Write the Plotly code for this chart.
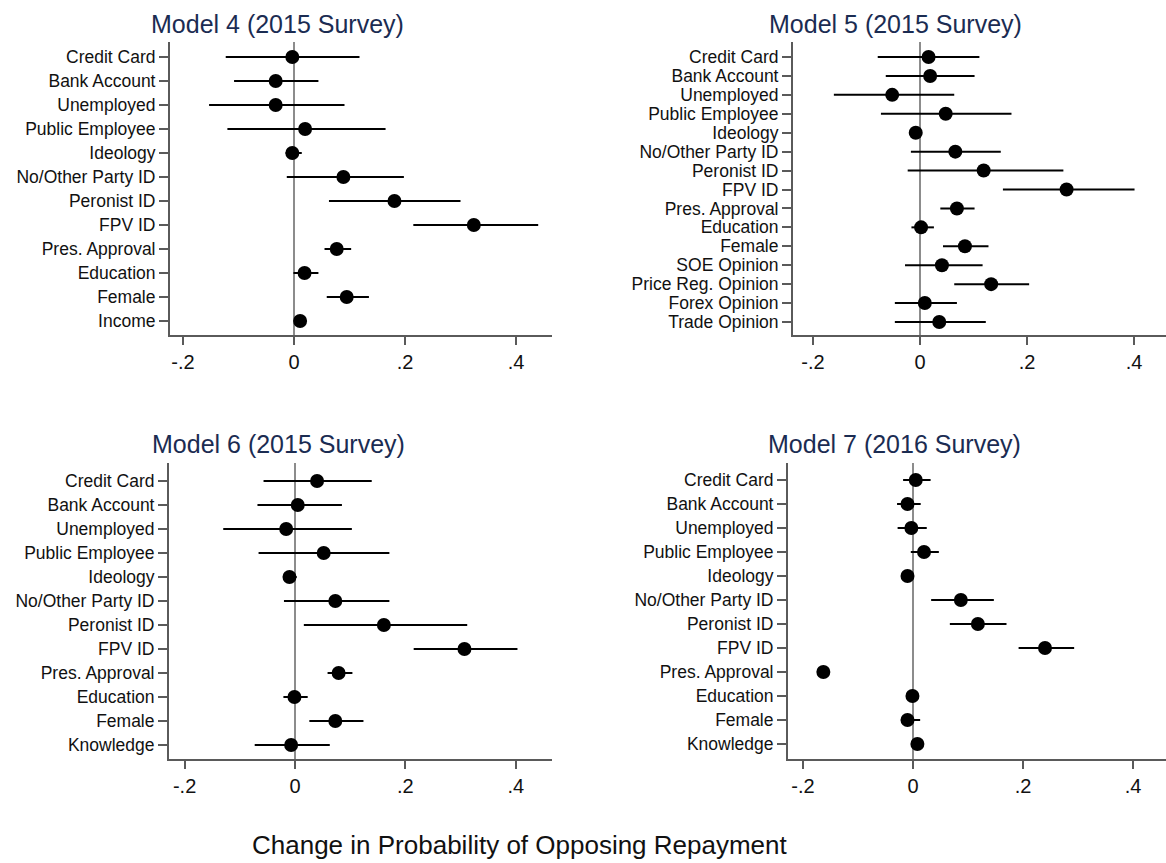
import plotly.graph_objects as go

W, H = 1166, 863
FONT = "Liberation Sans, Arial, Helvetica, sans-serif"

# ---- Model 4 (2015 Survey) ----
m4_labels = ["Credit Card", "Bank Account", "Unemployed", "Public Employee", "Ideology",
             "No/Other Party ID", "Peronist ID", "FPV ID", "Pres. Approval", "Education",
             "Female", "Income"]
m4_est = [-0.003, -0.033, -0.033, 0.020, -0.003, 0.089, 0.181, 0.324, 0.077, 0.019, 0.095, 0.011]
m4_lo = [-0.123, -0.108, -0.153, -0.120, -0.015, -0.013, 0.063, 0.215, 0.055, -0.001, 0.059, 0.004]
m4_hi = [0.118, 0.044, 0.091, 0.165, 0.014, 0.198, 0.300, 0.440, 0.103, 0.044, 0.135, 0.018]

# ---- Model 5 (2015 Survey) ----
m5_labels = ["Credit Card", "Bank Account", "Unemployed", "Public Employee", "Ideology",
             "No/Other Party ID", "Peronist ID", "FPV ID", "Pres. Approval", "Education",
             "Female", "SOE Opinion", "Price Reg. Opinion", "Forex Opinion", "Trade Opinion"]
m5_est = [0.016, 0.019, -0.052, 0.048, -0.008, 0.066, 0.119, 0.274, 0.069, 0.002, 0.084,
          0.041, 0.133, 0.009, 0.036]
m5_lo = [-0.079, -0.064, -0.161, -0.073, -0.017, -0.017, -0.023, 0.155, 0.038, -0.016, 0.043,
         -0.028, 0.064, -0.047, -0.047]
m5_hi = [0.111, 0.102, 0.064, 0.171, 0.003, 0.151, 0.268, 0.401, 0.102, 0.026, 0.128,
         0.117, 0.204, 0.069, 0.123]

# ---- Model 6 (2015 Survey) ----
m6_labels = ["Credit Card", "Bank Account", "Unemployed", "Public Employee", "Ideology",
             "No/Other Party ID", "Peronist ID", "FPV ID", "Pres. Approval", "Education",
             "Female", "Knowledge"]
m6_est = [0.040, 0.005, -0.016, 0.052, -0.010, 0.073, 0.161, 0.307, 0.079, -0.001, 0.073, -0.007]
m6_lo = [-0.057, -0.068, -0.130, -0.066, -0.020, -0.020, 0.016, 0.215, 0.059, -0.021, 0.026, -0.073]
m6_hi = [0.139, 0.085, 0.103, 0.171, 0.003, 0.171, 0.312, 0.403, 0.104, 0.023, 0.124, 0.063]

# ---- Model 7 (2016 Survey) ----
m7_labels = ["Credit Card", "Bank Account", "Unemployed", "Public Employee", "Ideology",
             "No/Other Party ID", "Peronist ID", "FPV ID", "Pres. Approval", "Education",
             "Female", "Knowledge"]
m7_est = [0.005, -0.010, -0.003, 0.020, -0.010, 0.087, 0.118, 0.240, -0.163, -0.001, -0.010, 0.008]
m7_lo = [-0.018, -0.029, -0.028, -0.004, -0.016, 0.033, 0.067, 0.192, -0.170, -0.007, -0.022, 0.002]
m7_hi = [0.032, 0.014, 0.025, 0.047, -0.004, 0.147, 0.170, 0.293, -0.156, 0.005, 0.013, 0.014]

titles = ["Model 4 (2015 Survey)", "Model 5 (2015 Survey)",
          "Model 6 (2015 Survey)", "Model 7 (2016 Survey)"]
x_tickvals = [-0.2, 0, 0.2, 0.4]
x_ticktext = ["-.2", "0", ".2", ".4"]
x_title = "Change in Probability of Opposing Repayment"

series = [
    (m4_labels, m4_est, m4_lo, m4_hi),
    (m5_labels, m5_est, m5_lo, m5_hi),
    (m6_labels, m6_est, m6_lo, m6_hi),
    (m7_labels, m7_est, m7_lo, m7_hi),
]

# Pixel geometry of each panel: y-axis line, right end, x=0 position,
# pixels per unit, axis top/bottom, first/last row centres, title centre.
geom = [
    dict(x0=170, x1=552, zero=294, ppu=555, top=42, bottom=335, first=57, last=321, tx=277, ty=24),
    dict(x0=793, x1=1166, zero=920, ppu=535, top=42, bottom=335, first=57, last=322, tx=895, ty=24),
    dict(x0=169, x1=552, zero=295, ppu=552, top=463, bottom=759, first=481, last=745, tx=278, ty=444),
    dict(x0=788, x1=1166, zero=913, ppu=550, top=463, bottom=759, first=480, last=744, tx=894, ty=444),
]

AXIS_COLOR = "#5a5a5a"
TITLE_COLOR = "#1b2c52"

fig = go.Figure()
layout = dict(
    width=W, height=H, autosize=False,
    margin=dict(l=0, r=0, t=0, b=0, pad=0),
    paper_bgcolor="white", plot_bgcolor="white",
    showlegend=False,
    font=dict(family=FONT, color="#111111"),
    annotations=[],
)

for i, ((labels, est, lo, hi), g) in enumerate(zip(series, geom)):
    n = len(labels)
    idx = list(range(n))
    sfx = "" if i == 0 else str(i + 1)
    plus = [h - e for h, e in zip(hi, est)]
    minus = [e - l for e, l in zip(est, lo)]
    fig.add_trace(go.Scatter(
        x=est, y=idx, mode="markers",
        marker=dict(color="black", size=14, line=dict(width=0)),
        error_x=dict(type="data", symmetric=False, array=plus, arrayminus=minus,
                     color="black", thickness=2, width=0),
        xaxis="x" + sfx, yaxis="y" + sfx, cliponaxis=False,
    ))
    spacing = (g["last"] - g["first"]) / (n - 1)
    yr = [(g["bottom"] - g["first"]) / spacing, (g["top"] - g["first"]) / spacing]
    xr = [(g["x0"] - g["zero"]) / g["ppu"], (g["x1"] - g["zero"]) / g["ppu"]]
    layout["xaxis" + sfx] = dict(
        domain=[g["x0"] / W, g["x1"] / W], range=xr, anchor="y" + sfx,
        tickvals=x_tickvals, ticktext=x_ticktext,
        ticks="outside", ticklen=8, tickwidth=2, tickcolor=AXIS_COLOR,
        showline=True, linecolor=AXIS_COLOR, linewidth=2,
        showgrid=False, zeroline=True, zerolinecolor="#8c8c8c", zerolinewidth=1.5,
        tickfont=dict(size=20, color="#111111", family=FONT),
        fixedrange=True,
    )
    layout["yaxis" + sfx] = dict(
        domain=[1 - g["bottom"] / H, 1 - g["top"] / H], range=yr, anchor="x" + sfx,
        tickvals=idx, ticktext=labels,
        ticks="outside", ticklen=9, tickwidth=1.5, tickcolor=AXIS_COLOR,
        showline=True, linecolor=AXIS_COLOR, linewidth=2,
        showgrid=False, zeroline=False,
        tickfont=dict(size=17.5, color="#111111", family=FONT),
        fixedrange=True,
    )
    layout["annotations"].append(dict(
        text=titles[i], x=g["tx"] / W, y=1 - g["ty"] / H, xref="paper", yref="paper",
        xanchor="center", yanchor="middle", showarrow=False,
        font=dict(size=25, color=TITLE_COLOR, family=FONT),
    ))

layout["annotations"].append(dict(
    text=x_title, x=520 / W, y=1 - 845 / H, xref="paper", yref="paper",
    xanchor="center", yanchor="middle", showarrow=False,
    font=dict(size=26, color="#111111", family=FONT),
))

fig.update_layout(**layout)
fig.write_html("out.html")
